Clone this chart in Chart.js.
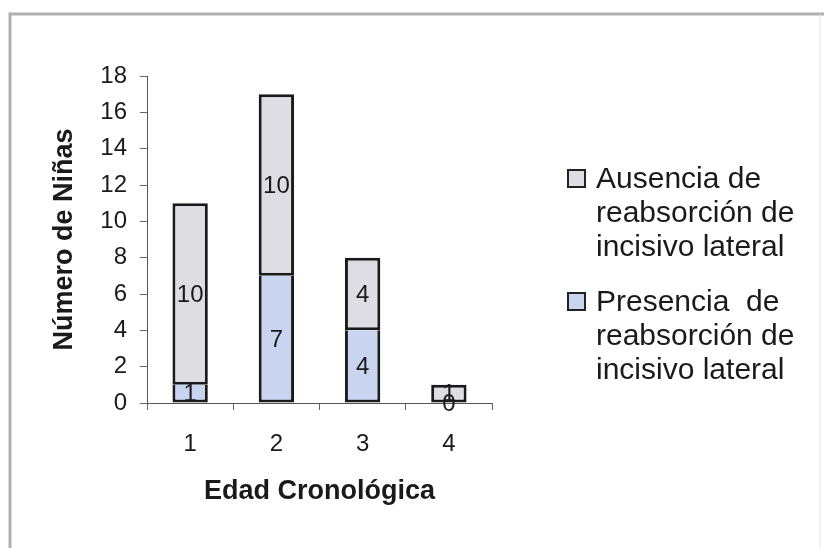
<!DOCTYPE html>
<html>
<head>
<meta charset="utf-8">
<script src="https://cdn.jsdelivr.net/npm/chart.js@4/dist/chart.umd.min.js"></script>
<style>
  html, body { margin: 0; padding: 0; background: #ffffff; }
  #wrap { position: relative; width: 827px; height: 548px; }
</style>
</head>
<body>
<div id="wrap"><canvas id="c" width="827" height="548"></canvas></div>
<script>
// Age groups (Edad Cronológica)
const categories = ['1', '2', '3', '4'];
// Girls with lateral incisor resorption
const presencia = [1, 7, 4, 0];
// Girls without lateral incisor resorption
const ausencia = [10, 10, 4, 1];
// Y axis ticks
const yTicks = [0, 2, 4, 6, 8, 10, 12, 14, 16, 18];

const legendPresencia = ['Presencia  de', 'reabsorción de', 'incisivo lateral'];
const legendAusencia = ['Ausencia de', 'reabsorción de', 'incisivo lateral'];

const FONT = "'Liberation Sans', Arial, Helvetica, sans-serif";
const INK = '#1a1a1a';

// Frame around the whole chart
const framePlugin = {
  id: 'frame',
  beforeDraw(chart) {
    const ctx = chart.ctx;
    ctx.save();
    ctx.fillStyle = '#ffffff';
    ctx.fillRect(0, 0, chart.width, chart.height);
    ctx.strokeStyle = '#b0b0b0';
    ctx.lineWidth = 3;
    ctx.beginPath();
    ctx.moveTo(10, 560);
    ctx.lineTo(10, 14);
    ctx.lineTo(824, 14);
    ctx.stroke();
    ctx.strokeStyle = '#e6e6e6';
    ctx.lineWidth = 1;
    ctx.beginPath();
    ctx.moveTo(820, 14);
    ctx.lineTo(820, 548);
    ctx.stroke();
    ctx.restore();
  }
};

// Segment values written in the middle of each stacked segment
const valueLabels = {
  id: 'valueLabels',
  afterDatasetsDraw(chart) {
    const ctx = chart.ctx;
    ctx.save();
    ctx.font = '24px ' + FONT;
    ctx.fillStyle = INK;
    ctx.textAlign = 'center';
    ctx.textBaseline = 'middle';
    chart.data.datasets.forEach((ds, di) => {
      const meta = chart.getDatasetMeta(di);
      meta.data.forEach((bar, i) => {
        const p = bar.getProps(['x', 'y', 'base'], true);
        ctx.fillText(String(ds.data[i]), p.x, (p.y + p.base) / 2 + 1);
      });
    });
    ctx.restore();
  }
};

// Legend on the right, multi-line entries
const sideLegend = {
  id: 'sideLegend',
  afterDraw(chart) {
    const ctx = chart.ctx;
    const ds = chart.data.datasets;
    const entries = [
      { lines: legendAusencia, color: ds[1].backgroundColor, top: 179 },
      { lines: legendPresencia, color: ds[0].backgroundColor, top: 302 }
    ];
    ctx.save();
    ctx.font = '30px ' + FONT;
    ctx.textAlign = 'left';
    ctx.textBaseline = 'middle';
    entries.forEach(e => {
      ctx.fillStyle = e.color;
      ctx.fillRect(568, e.top - 9, 17, 17);
      ctx.strokeStyle = '#222';
      ctx.lineWidth = 2;
      ctx.strokeRect(568, e.top - 9, 17, 17);
      ctx.fillStyle = INK;
      e.lines.forEach((t, k) => ctx.fillText(t, 596, e.top + k * 34 + 1));
    });
    ctx.restore();
  }
};

new Chart(document.getElementById('c'), {
  type: 'bar',
  data: {
    labels: categories,
    datasets: [
      {
        label: legendPresencia.join(' '),
        data: presencia,
        backgroundColor: '#c8d4f0',
        borderColor: '#1a1a1a',
        borderWidth: 3,
        borderSkipped: 'top',
        categoryPercentage: 1,
        barPercentage: 0.41
      },
      {
        label: legendAusencia.join(' '),
        data: ausencia,
        backgroundColor: '#dedde4',
        borderColor: '#1a1a1a',
        borderWidth: 3,
        borderSkipped: false,
        categoryPercentage: 1,
        barPercentage: 0.41
      }
    ]
  },
  options: {
    responsive: false,
    animation: false,
    devicePixelRatio: 1,
    layout: { padding: { left: 0, right: 335, top: 76, bottom: 0 } },
    plugins: {
      legend: { display: false },
      tooltip: { enabled: false }
    },
    scales: {
      x: {
        stacked: true,
        grid: { offset: true, drawOnChartArea: false, drawTicks: true, tickLength: 7, color: '#666', lineWidth: 1 },
        border: { color: '#555', width: 1 },
        ticks: { color: INK, font: { family: FONT, size: 24 }, padding: 20, maxRotation: 0 },
        title: { display: true, text: 'Edad Cronológica', color: INK, font: { family: FONT, size: 27, weight: 'bold' }, padding: { top: 0, bottom: 40 } },
        afterFit(scale) { scale.height = 145; }
      },
      y: {
        stacked: true,
        min: 0,
        max: 18,
        afterBuildTicks(scale) { scale.ticks = yTicks.map(v => ({ value: v })); },
        grid: { drawOnChartArea: false, drawTicks: true, tickLength: 7, color: '#666', lineWidth: 1 },
        border: { color: '#555', width: 1 },
        ticks: { color: INK, font: { family: FONT, size: 24 }, padding: 13 },
        title: { display: true, text: 'Número de Niñas', color: INK, font: { family: FONT, size: 27, weight: 'bold' }, padding: { top: 48, bottom: 0 } },
        afterFit(scale) { scale.width = 147; }
      }
    }
  },
  plugins: [framePlugin, valueLabels, sideLegend]
});
</script>
</body>
</html>
